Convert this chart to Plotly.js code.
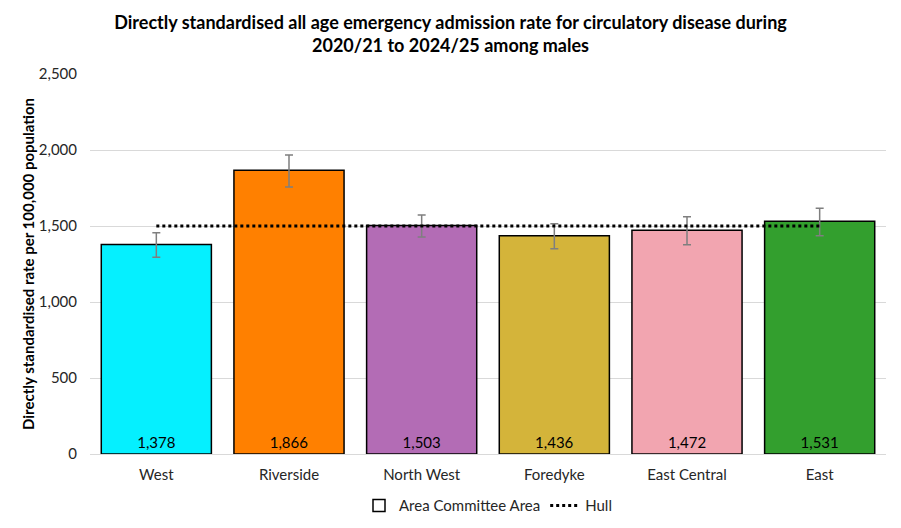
<!DOCTYPE html>
<html>
<head>
<meta charset="utf-8">
<script src="https://cdn.plot.ly/plotly-3.0.1.min.js"></script>
<style>
  html, body { margin: 0; padding: 0; background: #fff; }
  #chart { width: 901px; height: 528px; }
</style>
</head>
<body>
<div id="chart"></div>
<script>
// Area committee areas and their directly standardised rates (per 100,000)
const areas = ["West", "Riverside", "North West", "Foredyke", "East Central", "East"];
const rates = [1378, 1866, 1503, 1436, 1472, 1531];
// 95% confidence limits
const upperCI = [1456, 1967, 1572, 1515, 1561, 1616];
const lowerCI = [1294, 1757, 1428, 1351, 1377, 1436];
// Hull overall rate
const hullRate = 1500;
const barColors = ["#05F0FF", "#FF8000", "#B36CB5", "#D4B43A", "#F2A5B0", "#339F2E"];

const errPlus = rates.map((v, i) => upperCI[i] - v);
const errMinus = rates.map((v, i) => v - lowerCI[i]);
const labels = rates.map(v => v.toLocaleString("en-GB"));

const FONT = "Lato, 'Open Sans', sans-serif";

const traces = [
  {
    type: "bar",
    x: areas,
    y: rates,
    name: "Area Committee Area",
    showlegend: false,
    marker: { color: barColors, line: { color: "#000", width: 1.5 } },
    text: labels,
    textposition: "inside",
    insidetextanchor: "start",
    textangle: 0,
    constraintext: "none",
    textfont: { family: FONT, size: 15, color: "#000" },
    error_y: {
      type: "data",
      symmetric: false,
      array: errPlus,
      arrayminus: errMinus,
      color: "#7f7f7f",
      thickness: 1.5,
      width: 4
    },
    hoverinfo: "x+y"
  },
  {
    // legend key for the bars: white box with black outline
    type: "bar",
    x: areas,
    y: areas.map(() => null),
    name: "Area Committee Area",
    marker: { color: "#fff", line: { color: "#000", width: 1.5 } },
    hoverinfo: "skip"
  },
  {
    type: "scatter",
    mode: "lines",
    x: areas,
    y: areas.map(() => hullRate),
    name: "Hull",
    line: { color: "#000", width: 3, dash: "3px,3px" },
    hoverinfo: "y"
  }
];

const layout = {
  width: 901,
  height: 528,
  paper_bgcolor: "#fff",
  plot_bgcolor: "#fff",
  margin: { l: 90, r: 15, t: 74, b: 74 },
  barmode: "overlay",
  bargap: 0.17,
  font: { family: FONT, size: 15, color: "#262626" },
  title: {
    text: "<b>Directly standardised all age emergency admission rate for circulatory disease during<br>2020/21 to 2024/25 among males</b>",
    font: { family: FONT, size: 18, color: "#000" },
    x: 0.5,
    xanchor: "center",
    y: 0.945,
    yanchor: "top"
  },
  xaxis: {
    type: "category",
    showline: true,
    linecolor: "#d9d9d9",
    linewidth: 1,
    ticks: "",
    ticklabelstandoff: 7,
    tickfont: { family: FONT, size: 15, color: "#262626" },
    showgrid: false
  },
  yaxis: {
    range: [0, 2500],
    dtick: 500,
    tickformat: ",",
    gridcolor: "#d9d9d9",
    gridwidth: 1,
    zeroline: false,
    showline: false,
    ticks: "",
    ticklabelstandoff: 12,
    tickfont: { family: FONT, size: 15, color: "#262626" },
    title: {
      text: "<b>Directly standardised rate per 100,000 population</b>",
      font: { family: FONT, size: 15, color: "#000" },
      standoff: 0
    }
  },
  legend: {
    orientation: "h",
    xref: "paper",
    x: 0.5,
    xanchor: "center",
    yref: "container",
    y: 0.042,
    yanchor: "middle",
    font: { family: FONT, size: 15, color: "#262626" },
    traceorder: "normal"
  },
  showlegend: true
};

Plotly.newPlot("chart", traces, layout, { displayModeBar: false, staticPlot: true });
</script>
</body>
</html>
